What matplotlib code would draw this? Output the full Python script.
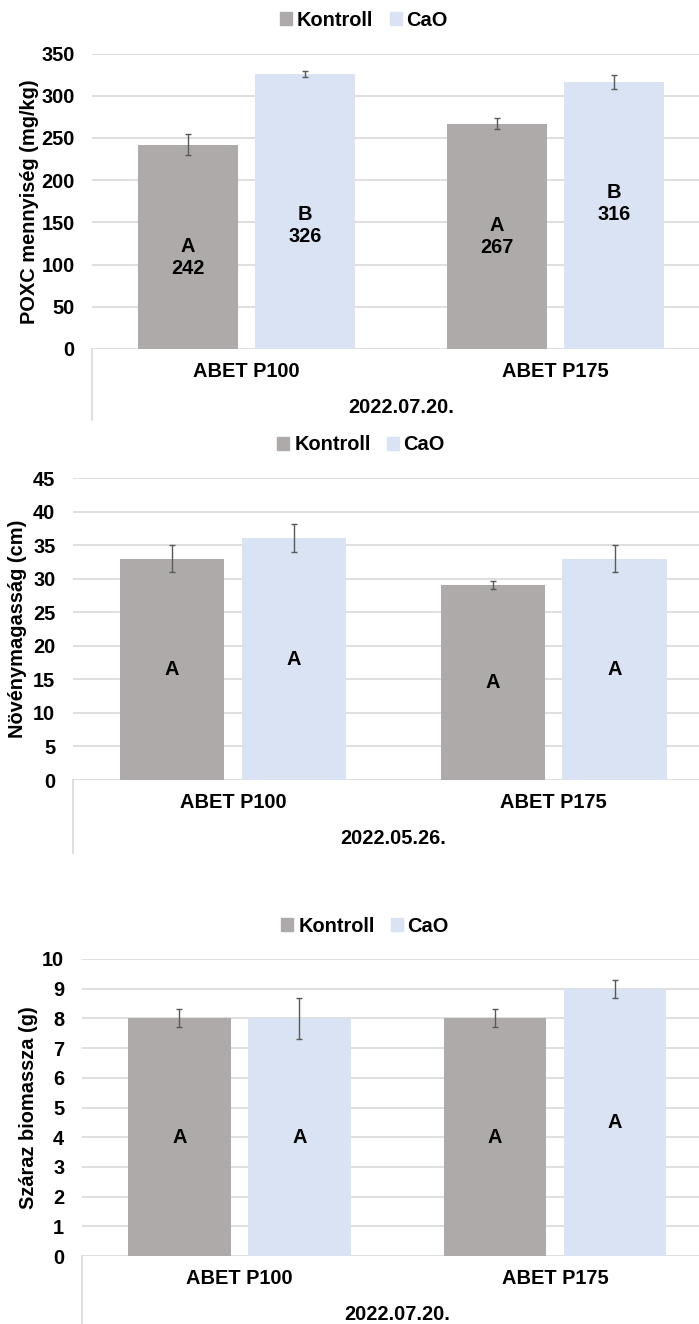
import matplotlib
matplotlib.use("Agg")
import matplotlib.pyplot as plt
from matplotlib.patches import Patch

plt.rcParams['font.family'] = ['Liberation Sans', 'DejaVu Sans']
plt.rcParams['font.weight'] = 'bold'

# adatok
categories = ['ABET P100', 'ABET P175']
series = ['Kontroll', 'CaO']

poxc_kontroll = [242, 267]
poxc_cao = [326, 316]
poxc_err_kontroll = [12.5, 7]
poxc_err_cao = [3.5, 8.5]
poxc_letters_kontroll = ['A', 'A']
poxc_letters_cao = ['B', 'B']

mag_kontroll = [33, 29]
mag_cao = [36, 33]
mag_err_kontroll = [2, 0.6]
mag_err_cao = [2.1, 2]
mag_letters_kontroll = ['A', 'A']
mag_letters_cao = ['A', 'A']

bio_kontroll = [8, 8]
bio_cao = [8, 9]
bio_err_kontroll = [0.3, 0.3]
bio_err_cao = [0.7, 0.3]
bio_letters_kontroll = ['A', 'A']
bio_letters_cao = ['A', 'A']

W, H = 699, 1324
col_k = '#aeaaaa'
col_c = '#dae3f3'
grid_col = '#d9d9d9'
fs = 14.4

fig = plt.figure(figsize=(W / 100, H / 100), dpi=100)


def panel(rect_px, legend_px, ylabel, ylabel_x, ymax, ystep, kon, cao, ek, ec,
          lk, lc, date, show_values=False, nudge=(0, 0, 0, 0), line_px=72):
    left, top, right, bottom = rect_px
    ax = fig.add_axes([left / W, 1 - bottom / H, (right - left) / W, (bottom - top) / H])
    x = [0, 1]
    off = 0.19
    bw = 0.325
    xk = [i - off for i in x]
    xc = [i + off for i in x]
    ax.bar(xk, kon, width=bw, color=col_k, zorder=2)
    ax.bar(xc, cao, width=bw, color=col_c, zorder=2)
    ax.errorbar(xk, kon, yerr=ek, fmt='none', ecolor='#595959', elinewidth=1,
                capsize=2.5, capthick=1, zorder=3)
    ax.errorbar(xc, cao, yerr=ec, fmt='none', ecolor='#595959', elinewidth=1,
                capsize=2.5, capthick=1, zorder=3)

    # betűjelek az oszlopokban
    xs = xk + xc
    vals = list(kon) + list(cao)
    lets = list(lk) + list(lc)
    for i in range(4):
        txt = lets[i] + ('\n' + str(vals[i]) if show_values else '')
        ax.annotate(txt, xy=(xs[i], vals[i] / 2), xytext=(0, nudge[i]),
                    textcoords='offset points', ha='center', va='center',
                    fontsize=fs, fontweight='bold', linespacing=1.2, zorder=4)

    ax.set_xlim(-0.5, 1.5)
    ax.set_ylim(0, ymax)
    ax.set_yticks(range(0, ymax + 1, ystep))
    ax.set_xticks([])
    ax.tick_params(axis='y', length=0, pad=12.5, labelsize=fs)
    for s in ax.spines.values():
        s.set_visible(False)
    ax.yaxis.grid(True, color=grid_col, linewidth=1.2)
    ax.set_axisbelow(True)

    ax.set_ylabel(ylabel, fontsize=fs, fontweight='bold')
    ax.yaxis.label.set_va('center')
    ax.yaxis.set_label_coords((ylabel_x - left) / (right - left), 0.5)

    for i, c in enumerate(categories):
        ax.annotate(c, xy=(x[i], 0), xycoords=('data', 'axes fraction'),
                    xytext=(0, -23 * 0.72), textcoords='offset points',
                    ha='center', va='center', fontsize=fs, fontweight='bold')
    ax.annotate(date, xy=(0.5, 0), xycoords='axes fraction',
                xytext=(0, -59 * 0.72), textcoords='offset points',
                ha='center', va='center', fontsize=fs, fontweight='bold')
    h = line_px / (bottom - top)
    ax.plot([0, 0], [0, -h], transform=ax.transAxes, color=grid_col,
            linewidth=1.2, clip_on=False)

    handles = [Patch(color=col_k), Patch(color=col_c)]
    fig.legend(handles, series, loc='center', ncol=2, frameon=False,
               bbox_to_anchor=(legend_px[0] / W, 1 - legend_px[1] / H),
               handlelength=0.6, handleheight=0.6, handletextpad=0.25,
               columnspacing=0.8, fontsize=fs, borderaxespad=0)
    return ax


panel((92, 53.5, 710, 349), (364, 20), 'POXC mennyiség (mg/kg)', 29, 350, 50,
      poxc_kontroll, poxc_cao, poxc_err_kontroll, poxc_err_cao,
      poxc_letters_kontroll, poxc_letters_cao, '2022.07.20.',
      show_values=True, nudge=(-8, 0, -10, 9), line_px=71)

panel((72.7, 478, 714, 780), (361, 445), 'Növénymagasság (cm)', 18, 45, 5,
      mag_kontroll, mag_cao, mag_err_kontroll, mag_err_cao,
      mag_letters_kontroll, mag_letters_cao, '2022.05.26.', line_px=73)

panel((81.6, 959, 712.6, 1256), (365, 926), 'Száraz biomassza (g)', 29, 10, 1,
      bio_kontroll, bio_cao, bio_err_kontroll, bio_err_cao,
      bio_letters_kontroll, bio_letters_cao, '2022.07.20.', line_px=75)

fig.savefig('out.png', dpi=100)
